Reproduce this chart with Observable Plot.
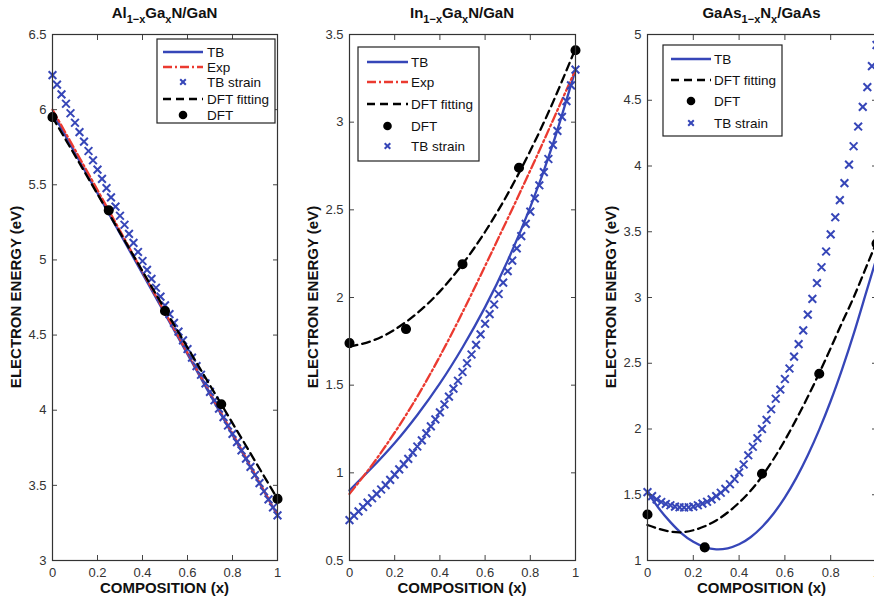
<!DOCTYPE html>
<html><head><meta charset="utf-8">
<script src="https://cdn.jsdelivr.net/npm/d3@7"></script>
<script src="https://cdn.jsdelivr.net/npm/@observablehq/plot@0.6"></script>
<style>
html,body{margin:0;padding:0;background:#fff;width:874px;height:601px;overflow:hidden;}
#root{position:relative;width:874px;height:601px;overflow:hidden;}
.panel{position:absolute;top:0;}
#overlay{position:absolute;left:0;top:0;pointer-events:none;}
</style></head><body><div id="root"></div>
<script>
const FONT = "'Liberation Sans', Arial, Helvetica, sans-serif";
const BLUE = "#3646b8", RED = "#eb3a30", BLACK = "#000";

// ---------- shared ----------
const xTicks = [0, 0.2, 0.4, 0.6, 0.8, 1];
const xDFT = [0, 0.25, 0.5, 0.75, 1];
const xStrain = [0,0.02,0.04,0.06,0.08,0.1,0.12,0.14,0.16,0.18,0.2,0.22,0.24,0.26,0.28,0.3,0.32,0.34,0.36,0.38,
  0.4,0.42,0.44,0.46,0.48,0.5,0.52,0.54,0.56,0.58,0.6,0.62,0.64,0.66,0.68,0.7,0.72,0.74,0.76,0.78,
  0.8,0.82,0.84,0.86,0.88,0.9,0.92,0.94,0.96,0.98,1];

// ---------- panel 1: Al(1-x)Ga(x)N / GaN ----------
const p1YTicks = [3, 3.5, 4, 4.5, 5, 5.5, 6, 6.5];
const p1LineX = [0, 0.25, 0.5, 0.75, 1];
const p1TB  = [5.98, 5.31, 4.64, 3.97, 3.30];
const p1Exp = [6.00, 5.33, 4.65, 3.98, 3.30];
const p1Fit = [5.95, 5.31, 4.67, 4.04, 3.41];
const p1DFT = [5.95, 5.33, 4.66, 4.04, 3.41];
const p1Strain = [6.230,6.166,6.102,6.039,5.976,5.913,5.850,5.787,5.725,5.663,
  5.601,5.539,5.478,5.416,5.355,5.294,5.234,5.173,5.113,5.053,
  4.993,4.934,4.874,4.815,4.756,4.698,4.639,4.581,4.523,4.465,
  4.407,4.350,4.293,4.236,4.179,4.122,4.066,4.010,3.954,3.898,
  3.843,3.788,3.733,3.678,3.623,3.569,3.515,3.461,3.407,3.353,3.300];

// ---------- panel 2: In(1-x)Ga(x)N / GaN ----------
const p2YTicks = [0.5, 1, 1.5, 2, 2.5, 3, 3.5];
const p2LineX = [0, 0.1, 0.2, 0.3, 0.4, 0.5, 0.6, 0.7, 0.8, 0.9, 1];
const p2TB  = [0.90, 1.03, 1.17, 1.33, 1.51, 1.715, 1.945, 2.21, 2.515, 2.875, 3.30];
const p2Exp = [0.88, 1.045, 1.23, 1.435, 1.665, 1.915, 2.18, 2.45, 2.725, 3.01, 3.30];
const p2Fit = [1.72, 1.753, 1.817, 1.911, 2.035, 2.19, 2.375, 2.591, 2.837, 3.113, 3.42];
const p2DFT = [1.74, 1.82, 2.19, 2.74, 3.41];
const p2Strain = [0.73,0.755,0.78,0.805,0.83,0.855,0.88,0.905,0.93,0.96,
  0.99,1.02,1.05,1.08,1.115,1.15,1.185,1.225,1.265,1.305,
  1.345,1.39,1.435,1.48,1.525,1.575,1.625,1.675,1.73,1.79,
  1.85,1.905,1.96,2.02,2.085,2.15,2.21,2.28,2.35,2.42,
  2.49,2.565,2.64,2.715,2.79,2.87,2.95,3.03,3.12,3.21,3.30];

// ---------- panel 3: GaAs(1-x)N(x) / GaAs ----------
const p3YTicks = [1, 1.5, 2, 2.5, 3, 3.5, 4, 4.5, 5];
const p3LineX = [0,0.05,0.1,0.15,0.2,0.25,0.3,0.35,0.4,0.45,0.5,0.55,0.6,0.65,0.7,0.75,0.8,0.85,0.9,0.95,1];
const p3TB  = [1.52,1.395,1.292,1.205,1.142,1.102,1.085,1.093,1.123,1.177,1.255,1.356,1.48,1.628,1.80,1.995,2.213,2.456,2.721,3.01,3.30];
const p3Fit = [1.27,1.24,1.22,1.215,1.23,1.26,1.305,1.365,1.44,1.53,1.64,1.77,1.915,2.075,2.245,2.425,2.615,2.81,3.00,3.21,3.42];
const p3DFT = [1.35, 1.10, 1.66, 2.42, 3.41];
const p3Strain = [1.52,1.49,1.465,1.445,1.43,1.42,1.41,1.405,1.403,1.405,
  1.41,1.42,1.432,1.447,1.465,1.49,1.515,1.545,1.58,1.62,
  1.67,1.73,1.80,1.865,1.93,2.00,2.07,2.15,2.23,2.30,
  2.38,2.46,2.55,2.645,2.75,2.87,2.99,3.11,3.23,3.35,
  3.48,3.61,3.74,3.87,4.01,4.15,4.30,4.45,4.60,4.76,4.92];

const fmt = d => d3.format("~g")(d);
const pts = (xs, ys) => xs.map((x, i) => ({x, y: ys[i]}));

function axes(yTicks) {
  const common = {tickSize: -5, stroke: "#444", label: null};
  return [
    Plot.axisX(xTicks, {...common, anchor: "bottom", tickPadding: 12, tickFormat: fmt}),
    Plot.axisX(xTicks, {...common, anchor: "top", tickFormat: () => ""}),
    Plot.axisY(yTicks, {...common, anchor: "left", tickPadding: 11, tickFormat: fmt}),
    Plot.axisY(yTicks, {...common, anchor: "right", tickFormat: () => ""}),
    Plot.frame({stroke: "#333", strokeWidth: 1.2})
  ];
}

const lineTB = d => Plot.line(d, {x: "x", y: "y", stroke: BLUE, strokeWidth: 2.3, curve: "natural"});
const lineExp = d => Plot.line(d, {x: "x", y: "y", stroke: RED, strokeWidth: 2.3, strokeDasharray: "9,3,2,3", curve: "natural"});
const lineFit = d => Plot.line(d, {x: "x", y: "y", stroke: BLACK, strokeWidth: 2.3, strokeDasharray: "8,5", curve: "natural"});
const dotsDFT = d => Plot.dot(d, {x: "x", y: "y", r: 4.3, fill: BLACK, stroke: BLACK});
const dotsStrain = d => Plot.dot(d, {x: "x", y: "y", symbol: "times", r: 3.6, stroke: BLUE, strokeWidth: 2});

function plotPanel({left, width, marginRight, yDomain, yTicks, marks}) {
  const p = Plot.plot({
    width, height: 601,
    marginLeft: 52, marginRight, marginTop: 34, marginBottom: 41,
    x: {domain: [0, 1]},
    y: {domain: yDomain},
    style: {fontFamily: FONT, fontSize: "13px", color: "#333", background: "transparent", overflow: "visible"},
    marks: [...marks, ...axes(yTicks)]
  });
  p.classList.add("panel");
  p.style.left = left + "px";
  document.getElementById("root").appendChild(p);
}

plotPanel({left: 0, width: 290, marginRight: 13, yDomain: [3, 6.5], yTicks: p1YTicks, marks: [
  lineTB(pts(p1LineX, p1TB)),
  lineExp(pts(p1LineX, p1Exp)),
  dotsStrain(pts(xStrain, p1Strain)),
  lineFit(pts(p1LineX, p1Fit)),
  dotsDFT(pts(xDFT, p1DFT))
]});
plotPanel({left: 297, width: 290, marginRight: 12, yDomain: [0.5, 3.5], yTicks: p2YTicks, marks: [
  lineTB(pts(p2LineX, p2TB)),
  lineExp(pts(p2LineX, p2Exp)),
  lineFit(pts(p2LineX, p2Fit)),
  dotsDFT(pts(xDFT, p2DFT)),
  dotsStrain(pts(xStrain, p2Strain))
]});
plotPanel({left: 595, width: 291, marginRight: 10, yDomain: [1, 5], yTicks: p3YTicks, marks: [
  lineTB(pts(p3LineX, p3TB)),
  lineFit(pts(p3LineX, p3Fit)),
  dotsDFT(pts(xDFT, p3DFT)),
  dotsStrain(pts(xStrain, p3Strain))
]});

// ---------- overlay: titles, axis labels, legends ----------
const svg = d3.select("#root").append("svg").attr("id", "overlay")
  .attr("width", 874).attr("height", 601)
  .style("font-family", FONT);

const titles = [
  {cx: 164.5, parts: [["Al"], ["1−x", 1], ["Ga"], ["x", 1], ["N/GaN"]]},
  {cx: 462, parts: [["In"], ["1−x", 1], ["Ga"], ["x", 1], ["N/GaN"]]},
  {cx: 761.5, parts: [["GaAs"], ["1−x", 1], ["N"], ["x", 1], ["/GaAs"]]}
];
titles.forEach(t => {
  const txt = svg.append("text").attr("x", t.cx).attr("y", 18)
    .attr("text-anchor", "middle").attr("font-weight", "bold").attr("font-size", 15).attr("fill", "#111");
  let sub = false;
  t.parts.forEach(([s, isSub]) => {
    const ts = txt.append("tspan").text(s);
    if (isSub && !sub) { ts.attr("dy", 5).attr("font-size", 11); sub = true; }
    else if (isSub) { ts.attr("font-size", 11); }
    else if (sub) { ts.attr("dy", -5); sub = false; }
  });
});

const frames = [{l: 52, r: 277}, {l: 349, r: 575}, {l: 647, r: 876}];
frames.forEach(f => {
  svg.append("text").attr("x", (f.l + f.r) / 2).attr("y", 593)
    .attr("text-anchor", "middle").attr("font-weight", "bold").attr("font-size", 15).attr("fill", "#111")
    .text("COMPOSITION (x)");
  svg.append("text").attr("transform", `translate(${f.l - 37},297) rotate(-90)`)
    .attr("text-anchor", "middle").attr("dominant-baseline", "central")
    .attr("font-weight", "bold").attr("font-size", 15).attr("fill", "#111")
    .text("ELECTRON ENERGY (eV)");
});

const legendItems = {
  TB: {kind: "line", stroke: BLUE},
  Exp: {kind: "line", stroke: RED, dash: "9,3,2,3"},
  "DFT fitting": {kind: "line", stroke: BLACK, dash: "8,5"},
  DFT: {kind: "dot"},
  "TB strain": {kind: "times"}
};
function legend({x0, y0, x1, y1, sx0, sx1, tx, rows}) {
  svg.append("rect").attr("x", x0).attr("y", y0).attr("width", x1 - x0).attr("height", y1 - y0)
    .attr("fill", "white").attr("stroke", "#222").attr("stroke-width", 1.2);
  rows.forEach(([label, y]) => {
    const it = legendItems[label];
    const cx = (sx0 + sx1) / 2;
    if (it.kind === "line") {
      svg.append("line").attr("x1", sx0).attr("x2", sx1).attr("y1", y).attr("y2", y)
        .attr("stroke", it.stroke).attr("stroke-width", 2.3).attr("stroke-dasharray", it.dash || null);
    } else if (it.kind === "dot") {
      svg.append("circle").attr("cx", cx).attr("cy", y).attr("r", 4.3).attr("fill", BLACK);
    } else {
      svg.append("path").attr("d", `M${cx-2.8},${y-2.8}L${cx+2.8},${y+2.8}M${cx-2.8},${y+2.8}L${cx+2.8},${y-2.8}`)
        .attr("stroke", BLUE).attr("stroke-width", 2).attr("fill", "none");
    }
    svg.append("text").attr("x", tx).attr("y", y).attr("dominant-baseline", "central")
      .attr("font-size", 13.5).attr("fill", "#111").text(label);
  });
}
legend({x0: 157, y0: 39, x1: 275, y1: 123, sx0: 163, sx1: 203, tx: 207,
  rows: [["TB", 52], ["Exp", 67], ["TB strain", 82], ["DFT fitting", 99], ["DFT", 115]]});
legend({x0: 358, y0: 47, x1: 479, y1: 161, sx0: 367, sx1: 408, tx: 411,
  rows: [["TB", 62], ["Exp", 82], ["DFT fitting", 104], ["DFT", 126], ["TB strain", 146]]});
legend({x0: 663, y0: 45, x1: 782, y1: 136, sx0: 671, sx1: 711, tx: 714,
  rows: [["TB", 59], ["DFT fitting", 80], ["DFT", 101], ["TB strain", 123]]});
</script></body></html>
